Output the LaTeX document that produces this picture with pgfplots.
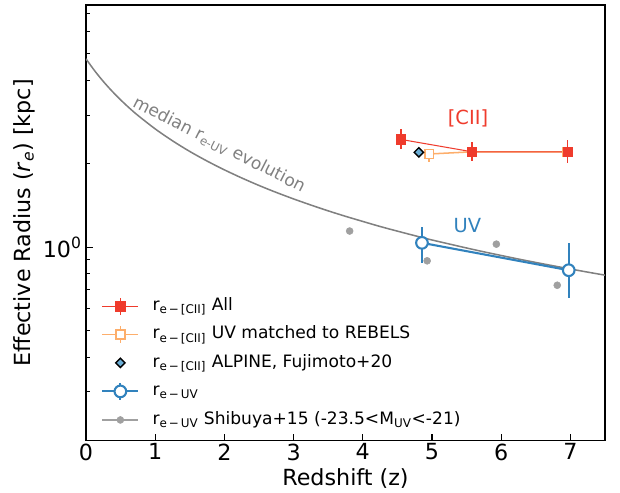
\documentclass[border=0pt]{standalone}
\usepackage{pgfplots}
\pgfplotsset{compat=1.18}
\usepackage{fontspec}
\setmainfont{DejaVu Sans}

\definecolor{cred}{RGB}{239,59,44}
\definecolor{corange}{RGB}{253,174,107}
\definecolor{cblue}{RGB}{49,130,189}
\definecolor{cdiam}{RGB}{107,174,214}
\definecolor{cdot}{RGB}{160,160,160}
\definecolor{ccurve}{RGB}{128,128,128}

\pgfplotsset{
  errleg/.style={legend image code/.code={
      \draw[##1,mark=none] (0pt,0pt) -- (26pt,0pt);
      \draw[##1,mark=none] (13pt,-6pt) -- (13pt,6pt);
      \draw[##1] plot coordinates {(13pt,0pt)};}},
  markleg/.style={legend image code/.code={
      \draw[##1] plot coordinates {(13pt,0pt)};}},
  dotleg/.style={legend image code/.code={
      \draw[cdot,line width=1.5pt] (0pt,0pt) -- (26pt,0pt);
      \draw[##1] plot coordinates {(13pt,0pt)};}},
}

\begin{document}
\begin{tikzpicture}
\path[use as bounding box] (-61.92pt,-37.8pt) rectangle (384.48pt,317.16pt);
\begin{axis}[
  scale only axis,
  width=373.68pt, height=313.56pt,
  ymode=log,
  xmin=0, xmax=7.5, ymin=0.2, ymax=7.5,
  tick pos=left, tick align=inside,
  xtick={0,1,2,3,4,5,6,7},
  xticklabels={0,1,2,3,4,5,6,7},
  ytick={1}, yticklabels={10\textsuperscript{0}},
  minor ytick={0.2,0.3,0.4,0.5,0.6,0.7,0.8,0.9,2,3,4,5,6,7},
  major tick length=5pt, minor tick length=2.9pt,
  every tick/.style={black, line width=0.75pt},
  axis line style={line width=0.9pt},
  ticklabel style={font=\fontsize{16}{19}\selectfont},
  xticklabel style={inner sep=0pt, yshift=-2pt},
  yticklabel style={inner sep=0pt, xshift=-2.9pt},
  xlabel={Redshift (z)},
  ylabel={Effective Radius (\textit{r}\textsubscript{\textit{e}}) [kpc]},
  label style={font=\fontsize{16}{19}\selectfont, inner sep=0pt},
  xlabel style={at={(axis description cs:0.5,-0.0631)}, anchor=north},
  ylabel style={at={(axis description cs:-0.0983,0.5)}, anchor=south},
  legend cell align=left,
  legend style={at={(axis description cs:0.0289,0.3294)}, anchor=north west,
    draw=none, fill=none, inner sep=0pt,
    font=\fontsize{12.3}{14}\selectfont,
    nodes={inner sep=0pt, text height=9.5pt, text depth=3.5pt},
    row sep=7.3pt, column sep=9.4pt},
]

% median r_e-UV evolution curve
\addplot[ccurve, line width=1.1pt, smooth, forget plot] coordinates {
  (0,4.790) (0.125,4.338) (0.25,3.970) (0.375,3.665) (0.5,3.406)
  (0.625,3.184) (0.75,2.992) (1,2.674) (1.25,2.422) (1.5,2.216)
  (1.75,2.046) (2,1.902) (2.25,1.778) (2.5,1.670) (2.75,1.576)
  (3,1.493) (3.25,1.419) (3.5,1.352) (3.75,1.292) (4,1.238)
  (4.25,1.187) (4.5,1.142) (4.75,1.100) (5,1.061) (5.25,1.026)
  (5.5,0.9925) (5.75,0.9613) (6,0.9326) (6.25,0.9053) (6.5,0.8800)
  (6.75,0.8560) (7,0.8334) (7.25,0.8119) (7.5,0.7918)};

% Shibuya+15
\addplot[only marks, mark=*, mark size=2.5pt, cdot, forget plot] coordinates {
  (3.81,1.143) (4.93,0.892) (5.93,1.025) (6.81,0.728)};

% UV matched to REBELS
\addplot[corange, line width=1.1pt, mark=square*, mark size=3.2pt,
  mark options={fill=white, draw=corange, line width=1.1pt}, forget plot,
  error bars/.cd, y dir=both, y explicit,
  error bar style={line width=1.1pt, corange}, error mark=none]
  coordinates {
  (4.96,2.17) += (0,0.10) -= (0,0.14)
  (5.58,2.21) += (0,0.18) -= (0,0.16)
  (6.96,2.21) += (0,0.23) -= (0,0.19)};

% All
\addplot[cred, line width=0.75pt, mark=square*, mark size=3.3pt,
  mark options={line width=0.5pt}, forget plot,
  error bars/.cd, y dir=both, y explicit,
  error bar style={line width=1.1pt, cred}, error mark=none]
  coordinates {
  (4.55,2.45) += (0,0.22) -= (0,0.19)
  (5.58,2.21) += (0,0.18) -= (0,0.16)
  (6.96,2.21) += (0,0.23) -= (0,0.19)};

% ALPINE, Fujimoto+20
\addplot[only marks, mark=square*, mark size=2.4pt,
  mark options={rotate=45, fill=cdiam, draw=black, line width=1pt}, forget plot]
  coordinates {(4.81,2.20)};

% r_e-UV
\addplot[cblue, line width=1.5pt, mark=*, mark size=4.2pt,
  mark options={fill=white, line width=1.5pt}, forget plot,
  error bars/.cd, y dir=both, y explicit,
  error bar style={line width=1.5pt, cblue}, error mark=none]
  coordinates {
  (4.855,1.036) += (0,0.15) -= (0,0.16)
  (6.976,0.825) += (0,0.21) -= (0,0.17)};

% legend
\addlegendimage{cred, line width=0.75pt, mark=square*, mark size=3.3pt,
  mark options={line width=0.5pt}, errleg}
\addlegendentry{r\textsubscript{e\,−\,[CII]} All}
\addlegendimage{corange, line width=1.1pt, mark=square*, mark size=3.2pt,
  mark options={fill=white, draw=corange, line width=1.1pt}, errleg}
\addlegendentry{r\textsubscript{e\,−\,[CII]} UV matched to REBELS}
\addlegendimage{mark=square*, mark size=2.4pt,
  mark options={rotate=45, fill=cdiam, draw=black, line width=1pt}, markleg}
\addlegendentry{r\textsubscript{e\,−\,[CII]} ALPINE, Fujimoto+20}
\addlegendimage{cblue, line width=1.5pt, mark=*, mark size=4.2pt,
  mark options={fill=white, line width=1.5pt}, errleg}
\addlegendentry{r\textsubscript{e\,−\,UV}}
\addlegendimage{cdot, mark=*, mark size=2.5pt, dotleg}
\addlegendentry{r\textsubscript{e\,−\,UV} Shibuya+15 (-23.5<M\textsubscript{UV}<-21)}

% annotations
\node[cred, font=\fontsize{14}{16}\selectfont] at (axis cs:5.52,2.93) {[CII]};
\node[cblue, font=\fontsize{14}{16}\selectfont] at (axis cs:5.51,1.20) {UV};
\node[ccurve, rotate=-27, font=\fontsize{12.3}{14}\selectfont]
  at (axis cs:1.924,2.337) {median r\textsubscript{e-UV} evolution};
\end{axis}
\end{tikzpicture}
\end{document}
